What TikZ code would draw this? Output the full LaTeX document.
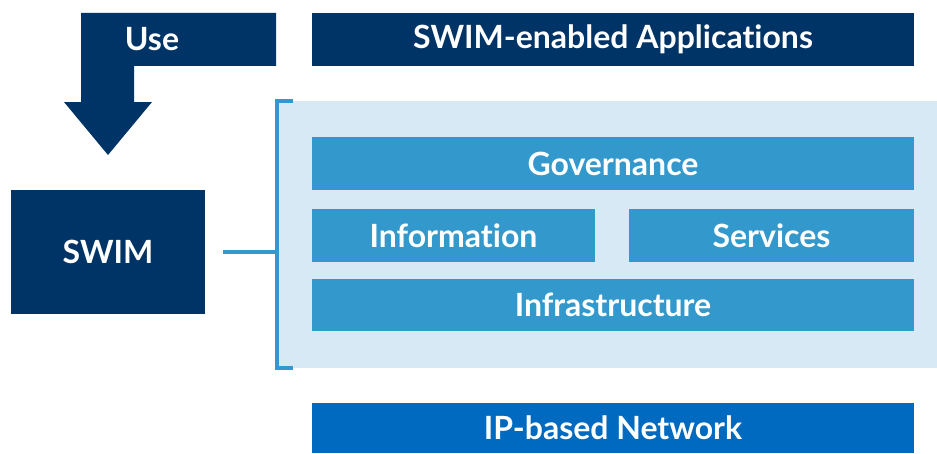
\documentclass[tikz,border=0pt]{standalone}
\usepackage{fontspec}
\setmainfont{Lato}[Ligatures=NoCommon]
\usepackage{tikz}
\usetikzlibrary{positioning,calc}
\definecolor{navy}{RGB}{0,51,102}
\definecolor{midblue}{RGB}{51,153,204}
\definecolor{paleblue}{RGB}{214,233,245}
\definecolor{netblue}{RGB}{0,106,193}

\begin{document}
\begin{tikzpicture}[
    x=0.75pt, y=-0.75pt,
    block/.style={rectangle, anchor=north west, inner sep=0pt, outer sep=0pt, text=white, font=\bfseries\fontsize{24}{28}\selectfont},
    darkblock/.style={block, fill=navy},
    layer/.style={block, fill=midblue},
    netblock/.style={block, fill=netblue},
    link/.style={draw=midblue, line width=2.4pt}
]
    \useasboundingbox (0,0) rectangle (937,453);

    % Light panel behind the layers
    \fill[paleblue] (277,101) rectangle (937,368);

    % Top and bottom
    \node[darkblock, minimum width=451.5pt, minimum height=39.75pt] (apps) at (312,13) {SWIM-enabled Applications};
    \node[netblock, minimum width=451.5pt, minimum height=37.5pt] (network) at (312,403) {IP-based Network};

    % SWIM layers
    \node[layer, minimum width=451.5pt, minimum height=39.75pt] (governance) at (312,137) {Governance};
    \node[layer, minimum width=212.25pt, minimum height=39.75pt] (information) at (312,209) {Information};
    \node[layer, minimum width=213.75pt, minimum height=39.75pt] (services) at (629,209) {Services};
    \node[layer, minimum width=451.5pt, minimum height=39pt] (infrastructure) at (312,279) {Infrastructure};

    % SWIM box
    \node[darkblock, minimum width=145.5pt, minimum height=93pt] (swim) at (11,190) {SWIM};

    % Bent arrow
    \fill[navy] (81,13) -- (276,13) -- (276,66) -- (134,66) -- (134,102) -- (152,102)
        -- (108,155) -- (64,102) -- (81,102) -- cycle;
    \node[text=white, font=\bfseries\fontsize{24}{28}\selectfont] (use) at (152,39) {Use};

    % Bracket
    \coordinate (brtop) at (277,101);
    \coordinate (brbot) at (277,368);
    \coordinate (brmid) at (277,252);
    \draw[link] ($(brtop)+(16,0)$) -- (brtop) -- (brbot) -- ($(brbot)+(16,0)$);
    \draw[link] (swim.east |- brmid) ++(18,0) -- (brmid);
\end{tikzpicture}
\end{document}
